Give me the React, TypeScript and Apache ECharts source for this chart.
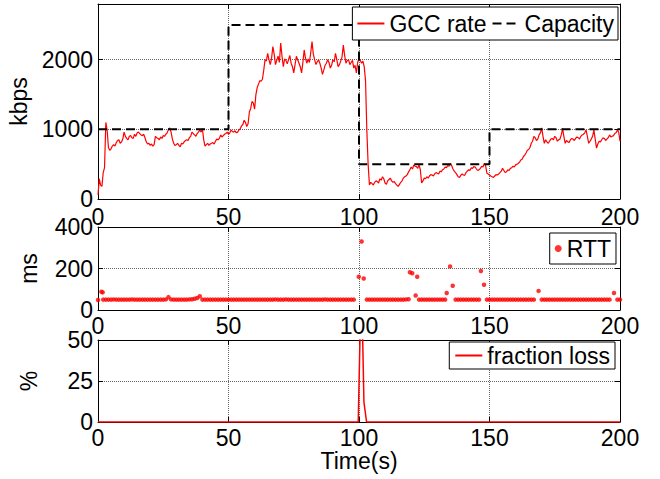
import React, { useEffect, useRef } from "react";
import * as echarts from "echarts";

// GCC rate (kbps), sampled at t = 0, 1, ..., 200 s
const gccRate: number[] = [
  60, 200, 380, 1100, 740, 720, 780, 810, 850, 820,
  960, 870, 900, 880, 930, 950, 940, 910, 880, 790,
  770, 760, 900, 870, 890, 910, 930, 1000, 960, 800,
  780, 770, 800, 820, 850, 880, 960, 920, 940, 990,
  1010, 760, 800, 790, 810, 830, 850, 920, 910, 940,
  930, 990, 960, 950, 990, 1050, 1130, 1040, 1250, 1400,
  1290, 1600, 1700, 1720, 2000, 2090, 1930, 2190, 1930, 2050,
  2240, 1900, 1990, 2000, 1950, 1810, 2050, 1950, 1810, 2140,
  1950, 1960, 2260, 2000, 1970, 1950, 1790, 1920, 2000, 1880,
  2000, 2090, 1900, 1980, 2210, 1950, 2000, 1960, 1880, 1810,
  2020, 1950, 1900, 990, 200, 220, 240, 250, 290, 320,
  230, 260, 300, 240, 220, 180, 240, 300, 330, 390,
  460, 490, 465, 490, 230, 300, 320, 330, 345, 360,
  370, 400, 420, 460, 480, 510, 430, 380, 320, 340,
  345, 380, 420, 450, 465, 430, 420, 470, 510, 370,
  345, 320, 330, 345, 380, 440, 380, 420, 440, 470,
  490, 510, 560, 610, 660, 710, 800, 900, 840, 920,
  1020, 800, 820, 830, 870, 900, 830, 860, 1010, 800,
  820, 850, 860, 870, 880, 900, 930, 990, 800, 860,
  990, 730, 830, 850, 870, 860, 920, 900, 940, 990,
  830,
];
// GCC rate (kbps) at the half seconds t = 0.5, 1.5, ..., 199.5 s
const gccRateHalf: number[] = [
  290, 180, 450, 990, 700, 760, 760, 840, 800, 860,
  900, 850, 910, 870, 900, 960, 920, 930, 820, 800,
  790, 780, 880, 850, 870, 900, 950, 1020, 860, 770,
  800, 750, 790, 840, 840, 900, 940, 900, 960, 960,
  850, 780, 770, 800, 790, 860, 870, 890, 930, 960,
  950, 970, 980, 960, 1010, 1070, 1100, 1080, 1300, 1380,
  1500, 1650, 1690, 1850, 1980, 2000, 2020, 2080, 1990, 1960,
  2050, 2010, 1940, 2060, 1900, 1930, 2000, 1900, 1960, 2020,
  2010, 2100, 2080, 1930, 2000, 1880, 1850, 1950, 1960, 1920,
  1970, 2000, 1930, 2040, 2060, 1990, 1930, 1990, 1920, 1960,
  1990, 1980, 1700, 500, 240, 200, 260, 230, 270, 290,
  210, 280, 260, 250, 200, 210, 260, 320, 350, 420,
  430, 470, 440, 420, 260, 290, 300, 350, 330, 380,
  360, 390, 430, 450, 470, 480, 400, 350, 310, 360,
  340, 400, 410, 440, 460, 410, 440, 460, 480, 360,
  330, 310, 350, 360, 400, 410, 390, 410, 450, 460,
  500, 530, 570, 630, 700, 740, 830, 880, 860, 950,
  900, 850, 800, 860, 850, 880, 850, 920, 900, 840,
  810, 870, 840, 890, 860, 920, 950, 900, 830, 900,
  860, 790, 820, 880, 840, 880, 890, 910, 950, 960,
];

// Link capacity (kbps), step changes
const capTime: number[] = [0, 50, 50, 100, 100, 150, 150, 200];
const capValue: number[] = [1000, 1000, 2500, 2500, 500, 500, 1000, 1000];

// RTT (ms): one sample per second (null = no sample), plus the outliers
const rttBaseline: (number | null)[] = [
  48, null, 50, 50, 50, 50, 51, 50, 50, 50,
  50, 50, 50, 51, 50, 50, 50, 50, 50, 50,
  50, 50, 50, 50, 50, 50, 51, 62, 51, 50,
  50, 50, 50, 50, 50, 51, 52, 54, 58, 66,
  50, 50, 50, 50, 50, 50, 50, 50, 50, 50,
  50, 50, 50, 50, 50, 50, 50, 50, 50, 50,
  50, 50, 50, 50, 50, 50, 50, 50, 51, 50,
  50, 50, 51, 50, 50, 50, 50, 50, 50, 50,
  50, 50, 50, 50, 50, 50, 50, 51, 50, 50,
  50, 50, 50, 50, 50, 50, 50, 50, 50, null,
  null, null, null, 50, 50, 50, 50, 50, 50, 50,
  50, 50, 50, 50, 50, 50, 50, 50, 51, 52,
  null, null, null, 50, 50, 50, 50, 50, 50, 50,
  50, 50, 50, 50, null, null, null, 50, 50, 50,
  50, 50, 50, 50, 50, 50, 50, null, null, 50,
  50, 50, 50, 50, 50, 50, 50, 50, 50, 50,
  50, 50, 50, 50, 50, 50, 50, 50, null, null,
  50, 50, 50, 50, 50, 50, 50, 50, 50, 50,
  50, 50, 50, 50, 50, 50, 50, 50, 50, 50,
  50, 50, 50, 50, 50, 50, 50, null, null, 50,
  50,
];
const rttSpikeTime: number[] = [1.3, 1.8, 99.9, 101, 101.8, 119.5, 120.4, 121.7, 122.3, 133.6, 134.9, 135.9, 146.7, 147.9, 168.8, 197.7];
const rttSpikeValue: number[] = [88, 85, 160, 330, 152, 182, 177, 70, 160, 82, 210, 117, 188, 122, 92, 82];

// Fraction loss (%)
const lossTime: number[] = [0, 99.7, 100.9, 101.9, 102.9, 200];
const lossValue: number[] = [0, 0, 90, 12, 0, 0];

// Axis ticks
const xTicks = { min: 0, max: 200, interval: 50 };
const yRanges = [
  { min: 0, max: 2800, interval: 1000, name: "kbps" },
  { min: 0, max: 400, interval: 200, name: "ms" },
  { min: 0, max: 50, interval: 25, name: "%" },
];

const FONT = "Liberation Sans, Arial, Helvetica, sans-serif";
const FS = 23;

export default function App() {
  const ref = useRef<HTMLDivElement>(null);

  useEffect(() => {
    if (!ref.current) return;
    const chart = echarts.init(ref.current, undefined, { renderer: "svg" });

    const grids = [
      { left: 98, top: 4, width: 522, height: 195, outerBoundsMode: "none", containLabel: false },
      { left: 98, top: 227, width: 522, height: 83, outerBoundsMode: "none", containLabel: false },
      { left: 98, top: 340, width: 522, height: 82, outerBoundsMode: "none", containLabel: false },
    ];

    const splitStyle = { show: true, lineStyle: { type: "dotted" as const, color: "#666", width: 1 } };
    const tick = { show: true, inside: true, length: 5, lineStyle: { color: "#000", width: 1 } };
    const axLine = { show: true, onZero: false, lineStyle: { color: "#000", width: 1 } };
    const lab = { color: "#000", fontSize: FS, fontFamily: FONT };
    const plain = (v: number) => String(v);

    const xAxis: any[] = [];
    const yAxis: any[] = [];
    for (let i = 0; i < 3; i++) {
      xAxis.push({
        gridIndex: i,
        type: "value",
        position: "bottom",
        ...xTicks,
        axisLine: axLine,
        axisTick: tick,
        axisLabel: { ...lab, margin: i === 0 ? 6 : 4, formatter: plain },
        splitLine: splitStyle,
        name: i === 2 ? "Time(s)" : "",
        nameLocation: "middle",
        nameGap: 27,
        nameTextStyle: { ...lab },
      });
    }
    for (let i = 0; i < 3; i++) {
      xAxis.push({
        gridIndex: i,
        type: "value",
        position: "top",
        ...xTicks,
        axisLine: axLine,
        axisTick: tick,
        axisLabel: { show: false },
        splitLine: { show: false },
      });
    }
    for (let i = 0; i < 3; i++) {
      const r = yRanges[i];
      yAxis.push({
        gridIndex: i,
        type: "value",
        position: "left",
        min: r.min,
        max: r.max,
        interval: r.interval,
        axisLine: axLine,
        axisTick: tick,
        axisLabel: { ...lab, margin: 5, showMaxLabel: i !== 0, formatter: plain },
        splitLine: splitStyle,
        name: r.name,
        nameLocation: "middle",
        nameGap: 58,
        nameTextStyle: { ...lab },
      });
    }
    for (let i = 0; i < 3; i++) {
      const r = yRanges[i];
      yAxis.push({
        gridIndex: i,
        type: "value",
        position: "right",
        min: r.min,
        max: r.max,
        interval: r.interval,
        axisLine: axLine,
        axisTick: tick,
        axisLabel: { show: false },
        splitLine: { show: false },
      });
    }

    const gccData: number[][] = [];
    gccRate.forEach((v, i) => {
      gccData.push([i, v]);
      if (i < gccRateHalf.length) gccData.push([i + 0.5, gccRateHalf[i]]);
    });
    const capData = capTime.map((t, i) => [t, capValue[i]]);
    const rttData: number[][] = [];
    rttBaseline.forEach((v, i) => {
      if (v !== null) rttData.push([i, v]);
    });
    rttSpikeTime.forEach((t, i) => rttData.push([t, rttSpikeValue[i]]));
    const lossData = lossTime.map((t, i) => [t, lossValue[i]]);

    const legendBase = {
      orient: "horizontal" as const,
      backgroundColor: "#fff",
      borderColor: "#000",
      borderWidth: 1,
      borderRadius: 0,
      textStyle: { color: "#000", fontSize: FS, fontFamily: FONT },
      selectedMode: false,
    };

    chart.setOption({
      animation: false,
      backgroundColor: "#fff",
      grid: grids,
      xAxis,
      yAxis,
      legend: [
        {
          ...legendBase,
          data: ["GCC rate", "Capacity"],
          right: 42,
          top: 7,
          itemWidth: 27,
          itemHeight: 14,
          itemGap: 5,
          padding: [5, 4],
          itemStyle: { opacity: 0 },
        },
        {
          ...legendBase,
          data: [{ name: "RTT", icon: "circle" }],
          right: 44,
          top: 233,
          itemWidth: 7,
          itemHeight: 7,
          padding: [4, 5],
        },
        {
          ...legendBase,
          data: ["fraction loss"],
          right: 45,
          top: 342,
          itemWidth: 27,
          itemHeight: 14,
          padding: [2, 5],
          itemStyle: { opacity: 0 },
        },
      ],
      series: [
        {
          name: "GCC rate",
          type: "line",
          xAxisIndex: 0,
          yAxisIndex: 0,
          data: gccData,
          symbol: "none",
          lineStyle: { color: "#ff0000", width: 1.2 },
          itemStyle: { color: "#ff0000" },
          z: 2,
        },
        {
          name: "Capacity",
          type: "line",
          xAxisIndex: 0,
          yAxisIndex: 0,
          data: capData,
          symbol: "none",
          lineStyle: { color: "#000", width: 2, type: [9, 5] },
          itemStyle: { color: "#000" },
          z: 3,
        },
        {
          name: "RTT",
          type: "scatter",
          xAxisIndex: 1,
          yAxisIndex: 1,
          data: rttData,
          symbol: "circle",
          symbolSize: 4.5,
          itemStyle: { color: "#ff0000" },
        },
        {
          name: "fraction loss",
          type: "line",
          xAxisIndex: 2,
          yAxisIndex: 2,
          data: lossData,
          symbol: "none",
          clip: true,
          lineStyle: { color: "#ff0000", width: 1.5 },
          itemStyle: { color: "#ff0000" },
        },
      ],
    });

    return () => chart.dispose();
  }, []);

  return (
    <div
      ref={ref}
      style={{ position: "fixed", left: 0, top: 0, width: 660, height: 479, background: "#fff" }}
    />
  );
}
